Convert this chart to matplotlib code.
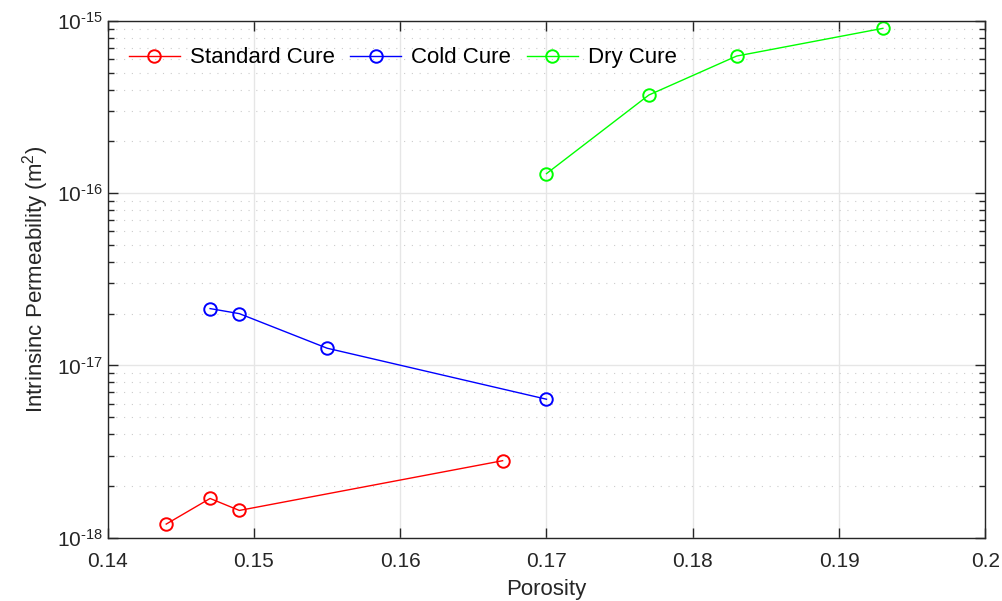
import matplotlib.pyplot as plt
from matplotlib.ticker import LogLocator, FixedLocator

plt.rcParams["font.family"] = ["Liberation Sans", "DejaVu Sans"]
plt.rcParams["mathtext.fontset"] = "custom"
plt.rcParams["mathtext.rm"] = "Liberation Sans"
plt.rcParams["mathtext.it"] = "Liberation Sans"

# porosity vs intrinsic permeability for each curing regime
standard_por = [0.144, 0.147, 0.149, 0.167]
standard_perm = [1.20e-18, 1.69e-18, 1.44e-18, 2.80e-18]

cold_por = [0.147, 0.149, 0.155, 0.170]
cold_perm = [2.14e-17, 2.00e-17, 1.26e-17, 6.37e-18]

dry_por = [0.170, 0.177, 0.183, 0.193]
dry_perm = [1.30e-16, 3.72e-16, 6.26e-16, 9.07e-16]

xticks = [0.14, 0.15, 0.16, 0.17, 0.18, 0.19, 0.2]
xticklabels = ["0.14", "0.15", "0.16", "0.17", "0.18", "0.19", "0.2"]
yticks = [1e-18, 1e-17, 1e-16, 1e-15]
yticklabels = [r"$10^{\text{-18}}$", r"$10^{\text{-17}}$",
               r"$10^{\text{-16}}$", r"$10^{\text{-15}}$"]

axis_color = "#262626"

fig = plt.figure(figsize=(10.02, 6.01), dpi=100)
ax = fig.add_axes([0.1075, 0.1053, 0.8758, 0.8597])

style = dict(marker="o", markersize=9, markerfacecolor="none",
             markeredgewidth=1.4, linewidth=1)
ax.plot(standard_por, standard_perm, color="#ff0000", label="Standard Cure", **style)
ax.plot(cold_por, cold_perm, color="#0000ff", label="Cold Cure", **style)
ax.plot(dry_por, dry_perm, color="#00ff00", label="Dry Cure", **style)

ax.set_yscale("log")
ax.set_xlim(0.14, 0.2)
ax.set_ylim(1e-18, 1e-15)
ax.set_xticks(xticks)
ax.set_xticklabels(xticklabels)
ax.xaxis.set_minor_locator(FixedLocator([]))
ax.yaxis.set_minor_locator(LogLocator(base=10, subs=range(2, 10), numticks=10))
ax.set_yticks(yticks)
ax.set_yticklabels(yticklabels)

ax.grid(True, which="major", color="#e6e6e6", linewidth=1, linestyle="-")
ax.grid(True, which="minor", axis="y", color="#cccccc", linewidth=0.8,
        linestyle=(0, (1, 6)))
ax.set_axisbelow(True)

ax.tick_params(which="both", direction="in", top=True, right=True,
               colors=axis_color, labelsize=15)
ax.tick_params(which="major", length=7, width=1)
ax.tick_params(which="minor", length=4, width=1)
ax.tick_params(axis="x", pad=10)
for spine in ax.spines.values():
    spine.set_color(axis_color)
    spine.set_linewidth(1)

ax.set_xlabel("Porosity", fontsize=16, color=axis_color, labelpad=6)
ax.set_ylabel(r"Intrinsinc Permeability (m$^2$)", fontsize=16,
              color=axis_color, labelpad=4)

ax.legend(loc="upper left", ncol=3, frameon=False, fontsize=16,
          handlelength=2.3, handletextpad=0.45, columnspacing=0.7,
          bbox_to_anchor=(0.0, 0.99), borderaxespad=0.55)

fig.savefig("out.png", dpi=100)
